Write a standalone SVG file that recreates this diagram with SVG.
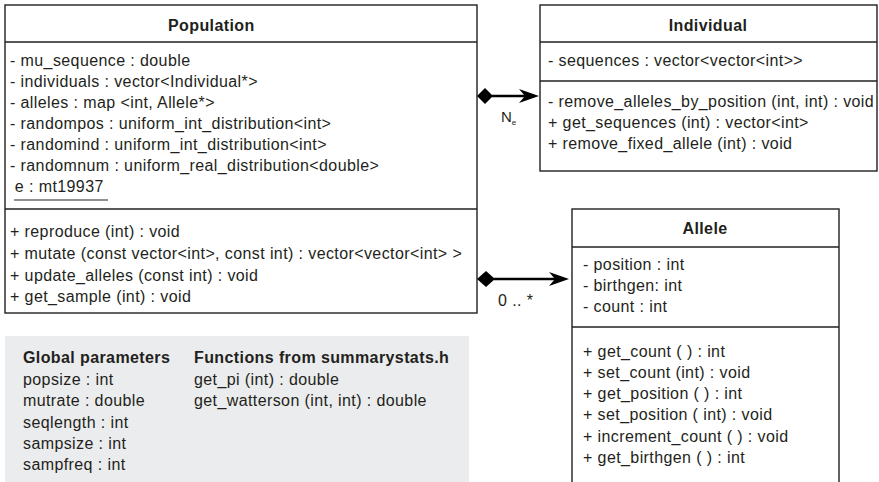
<svg xmlns="http://www.w3.org/2000/svg" width="879" height="482" viewBox="0 0 879 482">
<defs>
<style>
.box{fill:#fff;stroke:#231f20;stroke-width:1.4}
.div{stroke:#231f20;stroke-width:1.4}
text{font-family:"Liberation Sans",Arial,sans-serif;font-size:16px;letter-spacing:0.4px;fill:#231f20}
.t{font-weight:bold}
.con{stroke:#000;stroke-width:2.5;fill:none}
.dia{fill:#000}
</style>
</defs>
<rect width="879" height="482" fill="#fff"/>
<g id="population">
<rect class="box" x="5" y="5" width="472" height="308"/>
<line class="div" x1="5" y1="42" x2="477" y2="42"/>
<line class="div" x1="5" y1="209" x2="477" y2="209"/>
<text class="t" x="168" y="31">Population</text>
<text x="10" y="66">- mu_sequence : double</text>
<text x="10" y="87">- individuals : vector&lt;Individual*&gt;</text>
<text x="10" y="108">- alleles : map &lt;int, Allele*&gt;</text>
<text x="10" y="129">- randompos : uniform_int_distribution&lt;int&gt;</text>
<text x="10" y="150">- randomind : uniform_int_distribution&lt;int&gt;</text>
<text x="10" y="171">- randomnum : uniform_real_distribution&lt;double&gt;</text>
<text x="10" y="192" xml:space="preserve"> e : mt19937</text>
<line x1="14" y1="200" x2="108" y2="200" stroke="#231f20" stroke-width="1.2"/>
<text x="10" y="237">+ reproduce (int) : void</text>
<text x="10" y="259">+ mutate (const vector&lt;int&gt;, const int) : vector&lt;vector&lt;int&gt; &gt;</text>
<text x="10" y="281">+ update_alleles (const int) : void</text>
<text x="10" y="302">+ get_sample (int) : void</text>
</g>
<g id="individual">
<rect class="box" x="540" y="5" width="337" height="166"/>
<line class="div" x1="540" y1="42" x2="877" y2="42"/>
<line class="div" x1="540" y1="81" x2="877" y2="81"/>
<text class="t" x="708" y="31" text-anchor="middle">Individual</text>
<text x="548" y="66">- sequences : vector&lt;vector&lt;int&gt;&gt;</text>
<text x="548" y="107">- remove_alleles_by_position (int, int) : void</text>
<text x="548" y="128">+ get_sequences (int) : vector&lt;int&gt;</text>
<text x="548" y="149">+ remove_fixed_allele (int) : void</text>
</g>
<g id="allele">
<rect class="box" x="572" y="209" width="267" height="290"/>
<line class="div" x1="572" y1="247" x2="839" y2="247"/>
<line class="div" x1="572" y1="327" x2="839" y2="327"/>
<text class="t" x="705" y="234" text-anchor="middle">Allele</text>
<text x="583" y="270">- position : int</text>
<text x="583" y="291">- birthgen: int</text>
<text x="583" y="312">- count : int</text>
<text x="583" y="357">+ get_count ( ) : int</text>
<text x="583" y="378">+ set_count (int) : void</text>
<text x="583" y="399">+ get_position ( ) : int</text>
<text x="583" y="420">+ set_position ( int) : void</text>
<text x="583" y="442">+ increment_count ( ) : void</text>
<text x="583" y="463">+ get_birthgen ( ) : int</text>
</g>
<g id="globals">
<rect x="5" y="336" width="464" height="146" fill="#ebeced"/>
<text class="t" x="23" y="363">Global parameters</text>
<text x="23" y="385">popsize : int</text>
<text x="23" y="406">mutrate : double</text>
<text x="23" y="428">seqlength : int</text>
<text x="23" y="449">sampsize : int</text>
<text x="23" y="470">sampfreq : int</text>
<text class="t" x="194" y="363">Functions from summarystats.h</text>
<text x="194" y="385">get_pi (int) : double</text>
<text x="194" y="406">get_watterson (int, int) : double</text>
</g>
<g id="connectors">
<line class="con" x1="492" y1="96" x2="528" y2="96"/>
<path class="dia" d="M477,96 L485,88 L493,96 L485,104 Z"/>
<path class="dia" d="M539,96 L519,89 L525,96 L519,103 Z"/>
<text x="501" y="122" style="font-size:15px;letter-spacing:0">N<tspan font-size="8" dy="3">e</tspan></text>
<line class="con" x1="494" y1="279" x2="558" y2="279"/>
<path class="dia" d="M477,279 L486,271 L495,279 L486,287 Z"/>
<path class="dia" d="M569,279 L549,272 L555,279 L549,286 Z"/>
<text x="498" y="306">0 .. *</text>
</g>
</svg>
